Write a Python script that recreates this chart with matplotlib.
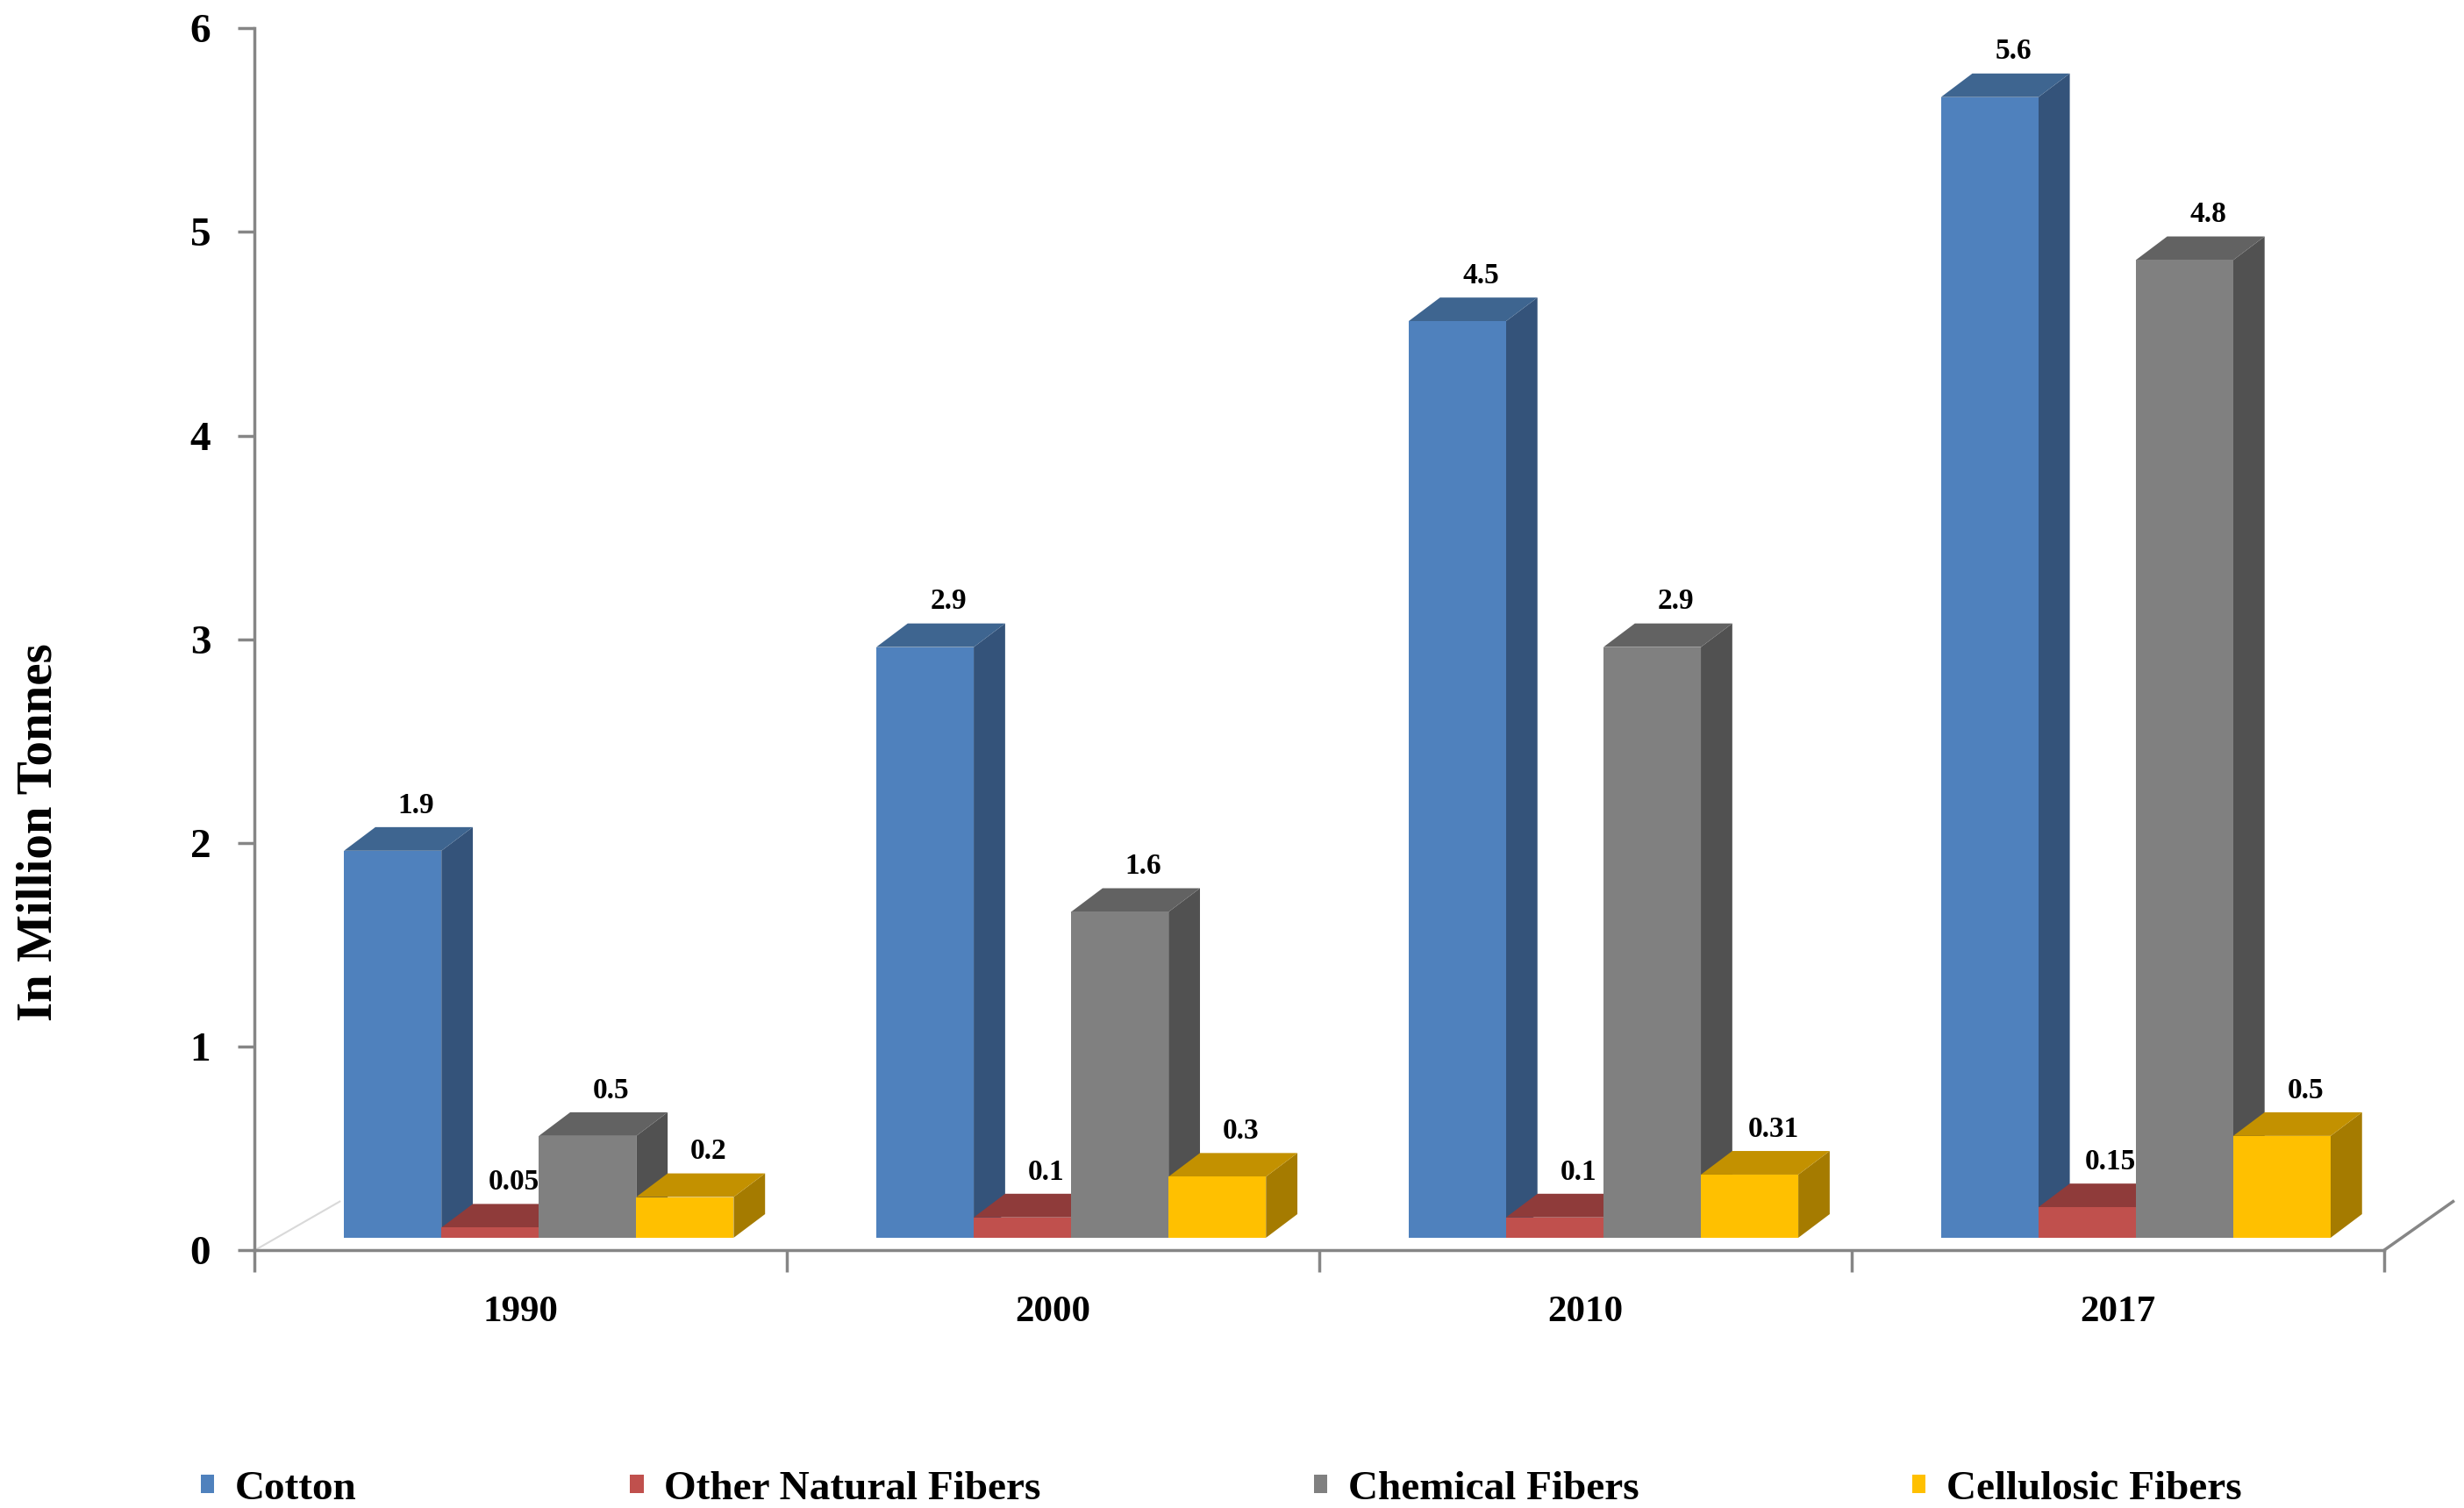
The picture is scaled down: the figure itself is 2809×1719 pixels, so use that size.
import numpy as np
import matplotlib.pyplot as plt
from matplotlib.patches import Polygon, Patch

years = ['1990', '2000', '2010', '2017']
series = ['Cotton', 'Other Natural Fibers', 'Chemical Fibers', 'Cellulosic Fibers']
cotton = [1.9, 2.9, 4.5, 5.6]
other_natural = [0.05, 0.1, 0.1, 0.15]
chemical = [0.5, 1.6, 2.9, 4.8]
cellulosic = [0.2, 0.3, 0.31, 0.5]
values = [cotton, other_natural, chemical, cellulosic]

# front / top / side shades for the fake 3d look
front_cols = ['#4F81BD', '#C0504D', '#808080', '#FFC000']
top_cols = ['#3E6590', '#8F3B3A', '#626262', '#C39100']
side_cols = ['#34537A', '#7A3230', '#515151', '#A57B00']

plt.rcParams['font.family'] = ['Liberation Serif', 'DejaVu Serif']
plt.rcParams['font.weight'] = 'bold'

fig = plt.figure(figsize=(28.09, 17.19), dpi=100)
ax = fig.add_axes([162 / 1568, 1 - 796 / 960, (1517 - 162) / 1568, (796 - 18) / 960])

bw = 0.183      # bar width (category units)
start = 0.168   # offset of first bar inside a category
dx, dy = 0.059, 0.116   # depth offset
base = 0.062    # front face baseline (sits a little above the floor edge)

for i in range(len(years)):
    for j, vals in enumerate(values):
        v = vals[i]
        x0 = i + start + j * bw
        x1 = x0 + bw
        y0 = base
        y1 = base + v
        z = 2 + i * 4 + j
        side = Polygon([(x1, y0), (x1 + dx, y0 + dy), (x1 + dx, y1 + dy), (x1, y1)],
                       closed=True, fc=side_cols[j], ec='none', zorder=z)
        top = Polygon([(x0, y1), (x0 + dx, y1 + dy), (x1 + dx, y1 + dy), (x1, y1)],
                      closed=True, fc=top_cols[j], ec='none', zorder=z)
        front = Polygon([(x0, y0), (x1, y0), (x1, y1), (x0, y1)],
                        closed=True, fc=front_cols[j], ec='none', zorder=z)
        ax.add_patch(side)
        ax.add_patch(top)
        ax.add_patch(front)
        ax.text((x0 + x1) / 2 + dx * 0.75, y1 + dy + 0.04, f'{v:g}',
                ha='center', va='bottom', fontsize=24, fontweight='bold', zorder=50)

# floor edges
ax.plot([0, 0.16], [0, 0.24], color='#d9d9d9', lw=1.5, clip_on=False, zorder=1)
ax.plot([4, 4.13], [0, 0.24], color='#868686', lw=2.5, clip_on=False, zorder=1)

ax.set_xlim(0, 4)
ax.set_ylim(0, 6)
ax.set_xticks(np.arange(5))
ax.set_xticklabels([])
ax.set_xticks(np.arange(4) + 0.5, minor=True)
ax.set_xticklabels(years, minor=True)
ax.tick_params(axis='x', which='major', direction='out', length=18, width=2.5, color='#868686')
ax.tick_params(axis='x', which='minor', length=0, pad=37, labelsize=31)
ax.set_yticks(np.arange(7))
ax.tick_params(axis='y', direction='out', length=14, width=2.5, color='#868686',
               pad=22, labelsize=34)

for s in ['top', 'right']:
    ax.spines[s].set_visible(False)
for s in ['left', 'bottom']:
    ax.spines[s].set_color('#868686')
    ax.spines[s].set_linewidth(2.5)

fig.text(25 / 1568, 1 - 530 / 960, 'In Million Tonnes', rotation=90, ha='center',
         va='center', fontsize=41, fontweight='bold')

handles = [Patch(fc=c, ec='none') for c in front_cols]
fig.legend(handles, series, loc='center left', bbox_to_anchor=(128 / 1568, 1 - 948 / 960),
           ncol=4, frameon=False, fontsize=34, handlelength=0.32, handleheight=0.32,
           handletextpad=0.5, columnspacing=6.6, borderaxespad=0, borderpad=0)

fig.savefig('out.png', dpi=100)
